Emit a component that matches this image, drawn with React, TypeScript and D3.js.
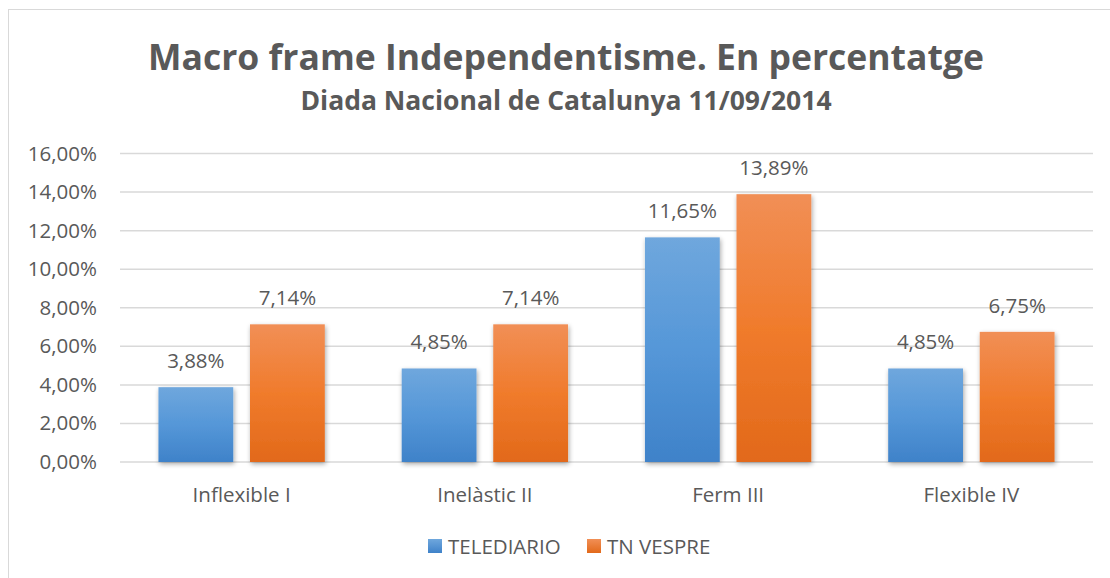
import React from "react";
import * as d3 from "d3";

const categories = ["Inflexible I", "Inelàstic II", "Ferm III", "Flexible IV"];
const seriesNames = ["TELEDIARIO", "TN VESPRE"];
const telediario = [3.88, 4.85, 11.65, 4.85];
const tnVespre = [7.14, 7.14, 13.89, 6.75];
const yTicks = [0, 2, 4, 6, 8, 10, 12, 14, 16];

const W = 1110;
const H = 578;
const FONT = "'Open Sans', Lato, 'Noto Sans', sans-serif";
const TXT = "#595959";

const fmt = (v: number) => v.toFixed(2).replace(".", ",") + "%";

export default function App() {
  const plot = { left: 120, right: 1093, top: 153.5, bottom: 462 };
  const x = d3.scaleBand<string>().domain(categories).range([plot.left, plot.right]).paddingInner(0).paddingOuter(0);
  const y = d3.scaleLinear().domain([0, 16]).range([plot.bottom, plot.top]);
  const inner = d3.scaleBand<string>().domain(seriesNames).range([0, x.bandwidth()]).paddingInner(0.183).paddingOuter(0.42);
  const seriesVals = [telediario, tnVespre];
  const fills = ["url(#gBlue)", "url(#gOrange)"];

  return (
    <svg width={W} height={H} style={{ position: "absolute", left: 0, top: 0, display: "block" }} fontFamily={FONT}>
      <defs>
        <linearGradient id="gBlue" x1="0" y1="0" x2="0" y2="1">
          <stop offset="0" stopColor="#6fa7dd" />
          <stop offset="0.5" stopColor="#5597d8" />
          <stop offset="1" stopColor="#3f82c9" />
        </linearGradient>
        <linearGradient id="gOrange" x1="0" y1="0" x2="0" y2="1">
          <stop offset="0" stopColor="#f18f56" />
          <stop offset="0.5" stopColor="#f07b2c" />
          <stop offset="1" stopColor="#e2691a" />
        </linearGradient>
        <filter id="shadow" x="-20%" y="-10%" width="140%" height="130%">
          <feGaussianBlur in="SourceAlpha" stdDeviation="2.5" />
          <feOffset dx="1" dy="2" result="b" />
          <feComponentTransfer>
            <feFuncA type="linear" slope="0.35" />
          </feComponentTransfer>
          <feMerge>
            <feMergeNode />
            <feMergeNode in="SourceGraphic" />
          </feMerge>
        </filter>
        <linearGradient id="gBlueL" x1="0" y1="0" x2="0" y2="1">
          <stop offset="0" stopColor="#6fa7dd" />
          <stop offset="1" stopColor="#3f82c9" />
        </linearGradient>
        <linearGradient id="gOrangeL" x1="0" y1="0" x2="0" y2="1">
          <stop offset="0" stopColor="#f18f56" />
          <stop offset="1" stopColor="#e2691a" />
        </linearGradient>
      </defs>
      <rect x={0} y={0} width={W} height={H} fill="#ffffff" />
      <rect x={8.5} y={9.5} width={1125} height={600} fill="#ffffff" stroke="#d9d9d9" strokeWidth={1} />

      <text x={566} y={70} textAnchor="middle" fontSize={35.5} fontWeight={700} fill={TXT}>
        Macro frame Independentisme. En percentatge
      </text>
      <text x={566} y={110} textAnchor="middle" fontSize={26.5} fontWeight={700} fill={TXT}>
        Diada Nacional de Catalunya 11/09/2014
      </text>

      {yTicks.map((t) => (
        <g key={t}>
          <line x1={plot.left} x2={plot.right} y1={y(t)} y2={y(t)} stroke="#d9d9d9" strokeWidth={1.5} />
          <text x={97} y={y(t) + 7} textAnchor="end" fontSize={20.5} fill={TXT}>
            {fmt(t)}
          </text>
        </g>
      ))}

      {categories.map((c, i) => (
        <g key={c}>
          {seriesNames.map((s, j) => {
            const v = seriesVals[j][i];
            const bx = (x(c) as number) + (inner(s) as number);
            const bw = inner.bandwidth();
            return (
              <g key={s}>
                <rect x={bx} y={y(v)} width={bw} height={y(0) - y(v)} fill={fills[j]} filter="url(#shadow)" />
                <text x={bx + bw / 2} y={y(v) - 19} textAnchor="middle" fontSize={20.5} fill={TXT}>
                  {fmt(v)}
                </text>
              </g>
            );
          })}
          <text x={(x(c) as number) + x.bandwidth() / 2} y={502} textAnchor="middle" fontSize={20.5} fill={TXT}>
            {c}
          </text>
        </g>
      ))}

      {seriesNames.map((s, j) => {
        const lx = [428, 587][j];
        return (
          <g key={s}>
            <rect x={lx} y={539} width={14} height={14} fill={j === 0 ? "url(#gBlueL)" : "url(#gOrangeL)"} />
            <text x={lx + 20} y={554} fontSize={20.5} fill={TXT}>
              {s}
            </text>
          </g>
        );
      })}
    </svg>
  );
}
